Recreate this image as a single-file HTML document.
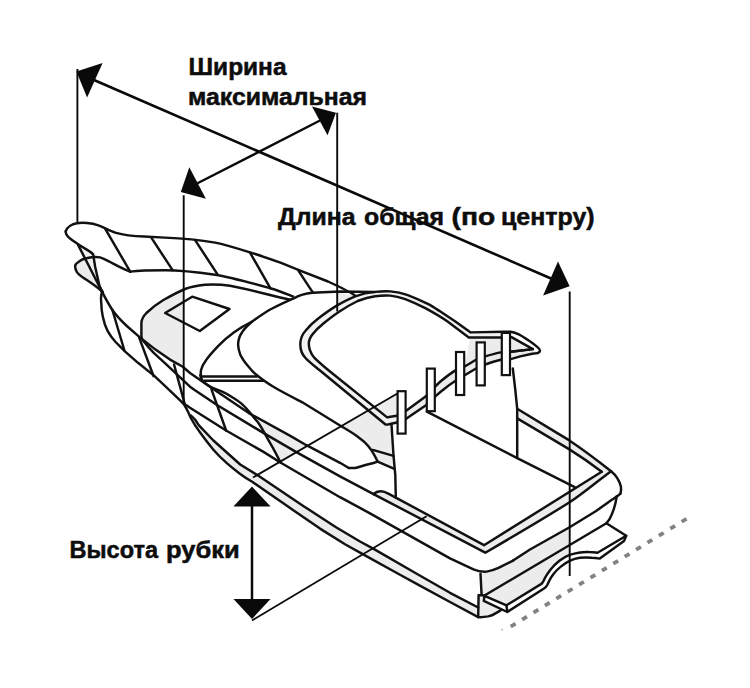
<!DOCTYPE html>
<html>
<head>
<meta charset="utf-8">
<style>
html,body{margin:0;padding:0;background:#fff;}
body{width:750px;height:688px;overflow:hidden;font-family:"Liberation Sans",sans-serif;}
svg{display:block;}
.b{fill:none;stroke:#111;stroke-width:2.45;stroke-linecap:round;stroke-linejoin:round;}
.d{fill:none;stroke:#0a0a0a;stroke-linecap:butt;}
.a{fill:#0a0a0a;stroke:none;}
text{font-family:"Liberation Sans",sans-serif;font-weight:bold;fill:#0d0d0d;stroke:#0d0d0d;stroke-width:0.5;stroke-linejoin:round;}
</style>
</head>
<body>
<svg width="750" height="688" viewBox="0 0 750 688">
<rect width="750" height="688" fill="#fff"/>
<g id="fills">
<path fill="#ececec" d="M87.6,258 C83,259 80,260.5 78.8,261.8 C76,263.5 75,265 75.1,266.4 C75.2,268.5 76,270.5 76.9,272.1 C79,275 82,277 85.1,278.9 C89,281.5 96,286 102.6,292 L84.5,257.5 Z"/>
<path fill="#ececec" d="M183.7,289.5 C176,292.8 168,297.5 162.7,300.5 C156,304.5 150,309.5 146.4,313 C143.5,316 141.6,319.5 141.4,322.6 L141.4,336.4 L143.9,341.4 L154,348.4 L170,359.6 L183.7,367.5 Z"/>
<path fill="#ececec" d="M340.8,426.2 L397.4,393.5 L397.4,422.5 L391.5,424.5 L393.5,455.9 L372.8,449.9 C370,446.5 367.5,444.5 364.8,442.4 C362.5,440 360,438.5 356.8,436 Z"/>
<path fill="#ececec" d="M372.8,449.9 L393.5,455.9 L394.4,468.8 L377.6,461.6 Z"/>
<path fill="#f1f1f1" d="M396.8,422.5 L389,424.3 C387.5,424.6 386.3,424.8 385.5,424.5 L320,370.5 C315,366.5 309,362 305.5,358 C301.5,354 300,348.5 300.4,342.7 C300.8,338 302.6,334 305.5,330.8 C309,326.3 313.5,322 317.6,318.9 C324,314 331,309 337.6,305.1 C343,302 349,298.8 355.2,296.3 C362,293.8 369,292.4 375.2,291.9 C380,291.4 385,291.2 390.3,291.4 C396,291.8 402,293 407.8,295.1 C414,297.5 421,300.5 427.8,303.9 C432,306 436,308.7 440,311.3 L455,321.3 L470.7,332.4 L502.7,331.8 L501.4,337.4 L468.8,337.4 L447.9,321.8 C441,316.9 433,312.4 425.3,308.2 C419,305 412,301.8 405.3,299.2 C400.5,297.4 395.5,296 390.3,295.6 C385,295.4 380,295.6 375.2,296.2 C369.5,297 363.5,298.7 357.7,301 C352,303.8 345.5,307.5 339.5,311.4 C334,315 328.5,319.3 323.4,323.5 C319.5,326.7 316,330 313.3,333.4 C310.8,336.3 308.9,339.8 308.8,343.5 C308.9,348.5 310.8,353.5 314,357.3 C318,361.5 324,366.5 330,371.5 L386.8,417.1 C387.3,417.3 388,417.2 389,417 L396.8,415.8 Z"/>
<path fill="#ececec" d="M337.2,292.3 L352.7,295.3 L337.2,305.3 Z"/>
<path fill="#ececec" d="M250.5,413.5 L290.3,435.9 L306.4,445.2 L296.8,452.4 L280.8,462.8 L272.9,447.9 L264.9,434.5 C263.3,431 261.5,428 259.5,425.2 L252.6,415.9 Z"/>
<path fill="#ececec" d="M191,415.5 L195,419.5 L198.7,425.1 L213.4,440.5 L226.8,452.5 L240.2,464.5 L259.2,476.2 L304,506.4 L336,527.2 L360,541.5 L373.2,548.6 L418,574.5 L450,592.8 L478.2,607.5 L478.2,617.1 L450,602 L418,584.6 L400,574.8 L363.6,554.6 L345,544.2 L320,528.6 L288,506.6 L252.2,481.8 C248,479.3 244,476.7 240.2,473.9 C235.5,470.5 231,467 226.8,463.2 C222,459 217.5,454.5 213.4,449.8 C209,444.3 204.5,438.5 200.1,432.4 Z"/>
<path fill="#ececec" d="M405.8,411.1 L425.6,396.5 C430,392 435,386.5 440.4,381.5 C445,377.7 450,373.8 455.4,370.4 C458.5,368.8 461.5,367.6 464.7,366.5 L476,359.8 L485.1,356.4 C491,354.7 496,353.3 500.8,352.4 L510.8,351.8 L532.9,349.1 L537.5,353.1 L532.2,353.8 L520.2,356.4 L510.8,359.1 C508,359.1 505,359.2 500.8,359.8 C496,360.8 491,362.3 485.1,364.5 L476,368.5 L464.7,375.2 C462,376.6 459.5,378.2 456.7,380 C452,383 447,386.5 442.9,390 C437,394.5 431,400.5 425.6,405.5 L405.8,419.1 Z"/>
<path fill="#ececec" d="M470,337.4 L501.4,337.4 L511.5,337.1 L532.9,349.1 L510.8,351.8 L500.8,352.4 L485.1,356.4 L476,359.8 L464.7,366.5 Z"/>
<path fill="#ececec" d="M517.2,418.4 C535,429 552,439 569.4,449.4 C580,456 591,463.5 601.7,471.8  L484,545.2 L388.8,493.8 C385,491.8 382.5,491 380,491.3 C377.5,491.5 375.5,492.5 373.8,493.8 L374,494.3 L485.3,552.7 C520,532.5 555,511.5 570,502 C584,492.5 597,481.5 611.1,471.2 C597,460 583,449.5 569.4,440.4 C552,430 535,419.5 517.2,408.7 Z"/>
<path fill="#ececec" d="M480.5,573.8 L486.7,571.6 C491,571 495,569.5 498.5,567.9 L513.1,560.6 L530,549.5 L569.7,527.2 L569.7,545 L484.5,595.5 L481.6,595.1 Z"/>
<path fill="#ececec" d="M484.5,595.5 L569.7,545 L569.7,554.9 C566,556.3 562.5,558.3 559.4,560.8 C556,563.5 553,566.5 550.6,569.6 C548.5,572.3 546.5,575.2 544.7,578.4 L543.5,581 C542.8,582.5 542,583.5 541,584.1 L506.5,605.3 L484.5,595.8 Z"/>
<path fill="#ececec" d="M478.6,595.1 L484.5,595.5 L483.8,600.9 L501.4,609.8 C499.5,611.2 497.5,612.3 495.5,613.4 C493.5,614.7 491,615.8 488.2,616.4 C485,617 481.5,617.3 478.2,617.1 Z"/>
<path fill="#f1f1f1" d="M78.2,245.1 L87.6,250.1 C90,251.5 92.5,253.5 93.2,254.5 L95.1,266.4 L99.5,286 L102.6,292.7 Z"/>
</g>
<g id="boat">
<path class="b" d="M65.7,231.3 C67,227 72,224 76.9,223.2 C82,222.3 92,223 97.6,225.1 C103,227 110,231 115.2,232.6 C125,235.5 135,236.3 144,236.5 L165,237.6 C175,238 200,240 215.2,242.6 C230,245.5 265,257 280.4,262.7 C295,268.5 315,276.5 328,281.5 C340,287 350,292 355,295.5"/>
<path class="b" d="M65.7,231.3 C65.5,234 68,237 71.3,239.5 C76,243 83,247.5 87.6,250.1 C90,251.5 92.5,253.5 93.2,254.5 L95.1,266.4 L99.5,286 L102.6,292"/>
<path class="b" d="M78.2,245.1 L102.6,292.7"/>
<path class="b" d="M130.2,271.6 C125,270 115,264.5 108.9,261.4 C104,258.8 102,258 100.1,257.4 C96,256.8 92,257 87.6,258 C83,259 80,260.5 78.8,261.8 C76,263.5 75,265 75.1,266.4 C75.2,268.5 76,270.5 76.9,272.1 C79,275 82,277 85.1,278.9 C89,281.5 96,286 102.6,292"/>
<path class="b" d="M130.2,271.6 C135,271 155,270.2 165,270.2 C180,270.2 200,272.5 215.2,274.7 C230,277 255,284 270.3,288.2 C280,291 288,294.5 293,296.5"/>
<path class="b" d="M105.1,228.6 L130.2,271.6 M151.3,237.6 L172.6,270.2 M195.1,240.1 L217.7,274.7 M250.3,253.1 L270.3,288.2 M298.4,270.7 L312.9,292.7"/>
<path class="b" d="M290.3,299.7 C280,297.5 270,295 262,293 C250,290 240,287.5 230,285.8 C222,284.5 212,284.2 205,284.7 C198,285.4 190,287 185,289 C176,292.8 168,297.5 162.7,300.5 C156,304.5 150,309.5 146.4,313 C143.5,316 141.6,319.5 141.4,322.6 L141.4,336.4 C141.6,339 142.5,340.5 143.9,341.4"/>
<path class="b" d="M165.1,313 L192.2,296.7 L229.5,309 L199.8,331 Z"/>
<path class="b" d="M375,292 L340,291.5 L312.3,292.8 C306,293.5 299,295.5 294.3,298.1 C286,301.5 278,305.5 270.2,309.5 C264,313 258,317.5 252.2,321.5 C248,325 244.5,328.5 242.1,332.2 C239.5,336 238.2,340 238.1,344.2 C238.2,348 239,351 240.1,354.2 C242,358.5 245,362.5 248.2,366.3 C251,370 254.5,373.5 258.2,376.3 C263,380 268.5,384 274.2,387.3 C283,392.5 292,397 302.3,402.3 L340.8,426 C346,429 352,432.5 356.8,436 C360,438.5 362.5,440 364.8,442.4 C367.5,445 370,448 372,451.2 C374,454.5 376,458 377.6,461.6 C374,463 370,464 366.4,464.8 C362,466 358,467.3 355.2,468 L348.8,468"/>
<path class="b" d="M252.2,321.5 C246,324.5 240,328 234.1,332.2 C228,336.5 223,341 218.1,346.2 C213.5,351 209.5,355.5 206,360.2 C203.5,363.5 201.8,367 201,370.3 C200.6,372.5 200.6,374.5 201,376.3 C201.3,377.3 201.3,377.8 201.4,378.4"/>
<path class="b" d="M202,376.4 L256.8,376.4 M204,380.8 L262.9,380.8"/>
<path class="b" d="M396.8,422.5 L389,424.3 C387.5,424.6 386.3,424.8 385.5,424.5 L320,370.5 C315,366.5 309,362 305.5,358 C301.5,354 300,348.5 300.4,342.7 C300.8,338 302.6,334 305.5,330.8 C309,326.3 313.5,322 317.6,318.9 C324,314 331,309 337.6,305.1 C343,302 349,298.8 355.2,296.3 C362,293.8 369,292.4 375.2,291.9 C380,291.4 385,291.2 390.3,291.4 C396,291.8 402,293 407.8,295.1 C414,297.5 421,300.5 427.8,303.9 C432,306 436,308.7 440,311.3 L455,321.3 L470.7,332.4 L502.7,331.8 L510.8,331.7 C514,332.2 516.5,333.2 518.8,334.4 C522.5,336.3 526,338.7 529.5,341.1 C532.5,343.2 535,345 537.5,347.1 C539,348.3 540,349.3 540,350.4 C540,351.7 539,352.5 537.5,353.1"/>
<path class="b" d="M396.8,415.8 L389,417 C388,417.2 387.3,417.3 386.8,417.1 L330,371.5 C324,366.5 318,361.5 314,357.3 C310.8,353.5 308.9,348.5 308.8,343.5 C308.9,339.8 310.8,336.3 313.3,333.4 C316,330 319.5,326.7 323.4,323.5 C328.5,319.3 334,315 339.5,311.4 C345.5,307.5 352,303.8 357.7,301 C363.5,298.7 369.5,297 375.2,296.2 C380,295.6 385,295.4 390.3,295.6 C395.5,296 400.5,297.4 405.3,299.2 C412,301.8 419,305 425.3,308.2 C433,312.4 441,316.9 447.9,321.8 L468.8,337.4 L501.4,337.4"/>
<path class="b" d="M511.5,337.1 L532.9,349.1 L510.8,351.8"/>
<path class="b" d="M405.8,411.1 L425.6,396.5 C430,392 435,386.5 440.4,381.5 C445,377.7 450,373.8 455.4,370.4 C458.5,368.8 461.5,367.6 464.7,366.5 L476,359.8 L485.1,356.4 C491,354.7 496,353.3 500.8,352.4 L510.8,351.8 L532.9,349.1"/>
<path class="b" d="M405.8,419.1 L425.6,405.5 C431,400.5 437,394.5 442.9,390 C447,386.5 452,383 456.7,380 C459.5,378.2 462,376.6 464.7,375.2 L476,368.5 L485.1,364.5 C491,362.3 496,360.8 500.8,359.8 C505,359.2 508,359.1 510.8,359.1 L520.2,356.4 L532.2,353.8 L537.5,353.1"/>
<path class="b" d="M102,291.6 C101,295 100.8,298.5 101.2,302 C101.3,307 101.8,312 102.8,316.4 C103.8,321.5 105.3,326.5 107.6,330.8 C109.8,335 112.5,338.5 115.6,342 L125.2,351.6 L138,362.8 L154,375.6 C163,384 173,393.5 182.7,402.8 C186,407 188.5,412.5 190.7,417.7 C193.5,423 196.8,428 200.1,432.4 C204.5,438.5 209,444.3 213.4,449.8 C217.5,454.5 222,459 226.8,463.2 C231,467 235.5,470.5 240.2,473.9 C244,476.7 248,479.3 252.2,481.8 L288,506.6 L320,528.6 L345,544.2 L363.6,554.6 L400,574.8 L418,584.6 L450,602 L478.2,617.1"/>
<path class="b" d="M182.7,402.8 L190,407.8 L226.1,430.5 L263.5,451.9 L280.8,462.8 L340,497.2 L370,513.3 L450,558.4 L473.5,569.4 C478,571.3 482,572 486.7,571.6 C491,571 495,569.5 498.5,567.9 L513.1,560.6"/>
<path class="b" d="M191,415.5 L195,419.5 L198.7,425.1 L213.4,440.5 L226.8,452.5 L240.2,464.5 L259.2,476.2 L304,506.4 L336,527.2 L360,541.5 L373.2,548.6 L418,574.5 L450,592.8 L478.2,607.5"/>
<path class="b" d="M102,291.6 C105,297.5 108.5,304 112.4,310 C116.5,316 121.5,321 126.8,326 L139.6,337.2 L154,348.4 L170,359.6 L182.8,366.8 L190,373 L211.4,387.7 L248.8,413.1 L290.3,435.9 L306.4,445.2 L340,462.8 L348.8,468"/>
<path class="b" d="M143.9,341.4 C147,345.5 150.5,349.5 154,353.2 L166.8,364.8 L178,375.3 L190,386.7 L195,390.3 L217.4,405.2 L263.3,432.9 L296.8,452.4 L340,476.4 L374,494.3"/>
<path class="b" d="M112.4,310 L124.4,350.5 M139.2,337.6 L153.5,376 M174,364.4 L184.4,402.8 M211.4,389.1 L226.1,430.5"/>
<path class="b" d="M200.3,375.3 C200.6,377.5 201.3,379.3 202.5,380.7 C205,383.5 208,385.5 211,387.1 C214.5,388.7 218,390 221.7,391.3 C225.5,393 229,395 232.3,397.2 C235.3,399 238.2,401 240.9,403.1 C243.2,405 245.3,407.2 247.3,409.5 C249.2,411.5 251,413.7 252.6,415.9 L257.9,422.3 C259.8,425 261.6,427.8 263.3,430.8 L268.6,440.4 L272.9,447.9 L280.8,462.8"/>
<path class="b" d="M391.5,424.5 L393.5,455.5 L395.3,475.2 L395.8,497.7"/>
<path class="b" d="M372.8,449.9 L393.5,455.9 M377.6,461.6 L394.4,468.8"/>
<path class="b" d="M426.9,411.6 L517.2,458.1 L574.7,487.1"/>
<path class="b" d="M512.8,368.5 L515.3,390 L517.2,408.7 L517.2,458.1"/>
<path class="b" d="M517.2,408.7 C535,419.5 552,430 569.4,440.4 C583,449.5 597,460 611.1,471.2 C614,473.5 616,476 617.6,478.7 C619.5,481.5 620.5,484.5 621,487.1 C621.3,489.5 621,491.5 620.4,493.6"/>
<path class="b" d="M517.2,418.4 C535,429 552,439 569.4,449.4 C580,456 591,463.5 601.7,471.8"/>
<path class="b" d="M601.7,471.8 L484,545.2 L388.8,493.8 C385,491.8 382.5,491 380,491.3 C377.5,491.5 375.5,492.5 373.8,493.8"/>
<path class="b" d="M611.1,471.2 C597,481.5 584,492.5 570,502 C555,511.5 520,532.5 485.3,552.7 L374,494.3"/>
<path class="b" d="M620.4,493.6 C618.5,495.5 616,497 612.2,499.6 L596.1,511 L569.6,527.2 L530,549.5 L513.1,560.6"/>
<path class="b" d="M616.8,496.2 C616,501 615,505.5 613.7,509.4 C612.5,513 611,516.5 609.3,519.6 L606.4,523.3"/>
<path class="b" d="M484.5,595.5 L606.4,523.3 L626.2,535.8 L597.5,552.7 C595,552.3 592,552 588.7,552 C585,551.9 581.5,552.2 578.5,552.7 C575.5,553.2 572.5,554 569.6,554.9 C566,556.3 562.5,558.3 559.4,560.8 C556,563.5 553,566.5 550.6,569.6 C548.5,572.3 546.5,575.2 544.7,578.4 L543.5,581 C542.8,582.5 542,583.5 541,584.1 L506.5,605.3 L484.5,595.8"/>
<path class="b" d="M626.2,535.8 L624,540.9 L599.8,558.6 C597,558.1 594.5,557.8 591.7,557.8 C588,557.5 583.5,557.5 579.9,557.8 C576.5,558.3 573,559.3 569.6,560.8 C566.5,562.3 563.5,564.3 560.8,566.6 C558,568.8 555.5,571.3 553.5,574 C551.8,576.2 550.3,578.5 549.1,581 L547.5,584.5 C546.5,586.5 545.5,587.7 544,588.5 L507.3,612 L483.8,600.9 L484.5,595.8 M506.5,605.3 L507.3,612"/>
<path class="b" d="M480.5,573.8 L481.6,595.1 M484.5,595.5 L478.6,595.1 L478.2,617.1 C481.5,617.3 485,617 488.2,616.4 C491,615.8 493.5,614.7 495.5,613.4 C497.5,612.3 499.5,611.2 501.4,609.8"/>
</g>
<g id="dims">
<path class="d" stroke-width="2.6" d="M94,80 L551,278.5"/>
<polygon class="a" points="76.4,71.5 102.6,63.1 87.1,97.6"/>
<polygon class="a" points="569.6,286.3 558,261.4 543.1,295.6"/>
<path class="d" stroke-width="1.9" d="M77.4,69 L77.4,223"/>
<path class="d" stroke-width="1.9" d="M569.7,291.5 L569.7,576"/>
<path class="d" stroke-width="2.4" d="M197,183.5 L320,120.5"/>
<polygon class="a" points="336,112.7 312,106.5 327.5,135.3"/>
<polygon class="a" points="180.8,191.9 189.3,167.3 205.9,198.8"/>
<path class="d" stroke-width="1.9" d="M337.2,112.7 L337.2,311.4"/>
<path class="d" stroke-width="1.9" d="M183.7,195.3 L183.7,402.7"/>
<path class="d" stroke-width="2.5" d="M252,500 L252,605"/>
<polygon class="a" points="252,486.6 233.4,506.6 270.6,506.6"/>
<polygon class="a" points="252,619 233.5,599 270.5,599"/>
<path class="d" stroke-width="1.9" d="M253,477.5 L397.4,393.5"/>
<path class="d" stroke-width="1.8" d="M252,620.4 L426.6,516.2"/>
<path d="M510.76,626.64 L686.5,518.8" fill="none" stroke="#828282" stroke-width="3.8" stroke-dasharray="5.6 7.77"/>
<path d="M501.2,630.2 L503,629.1" fill="none" stroke="#c8c8c8" stroke-width="2"/>
</g>
<g id="posts" fill="#fff" stroke="#111" stroke-width="2.2" stroke-linejoin="miter">
<rect x="397.6" y="391.2" width="8" height="42.4"/>
<rect x="426.8" y="368.6" width="8" height="42.6"/>
<rect x="456" y="352" width="8.2" height="43"/>
<rect x="476.6" y="342.4" width="8.2" height="43"/>
<rect x="501.8" y="332.9" width="8.2" height="42.2"/>
</g>
<g id="labels">
<text x="188.5" y="74.8" font-size="23" textLength="98" lengthAdjust="spacingAndGlyphs">Ширина</text>
<text x="188" y="105.2" font-size="23" textLength="179" lengthAdjust="spacingAndGlyphs">максимальная</text>
<text x="278" y="225.2" font-size="23" textLength="77.5" lengthAdjust="spacingAndGlyphs">Длина</text>
<text x="364" y="225.2" font-size="23" textLength="80" lengthAdjust="spacingAndGlyphs">общая</text>
<text x="451.5" y="225.2" font-size="23" textLength="43.6" lengthAdjust="spacingAndGlyphs">(по</text>
<text x="501" y="225.2" font-size="23" textLength="93.6" lengthAdjust="spacingAndGlyphs">центру)</text>
<text x="69.5" y="557.7" font-size="23" textLength="88.5" lengthAdjust="spacingAndGlyphs">Высота</text>
<text x="166" y="557.7" font-size="23" textLength="73.7" lengthAdjust="spacingAndGlyphs">рубки</text>
</g>
</svg>
</body>
</html>
